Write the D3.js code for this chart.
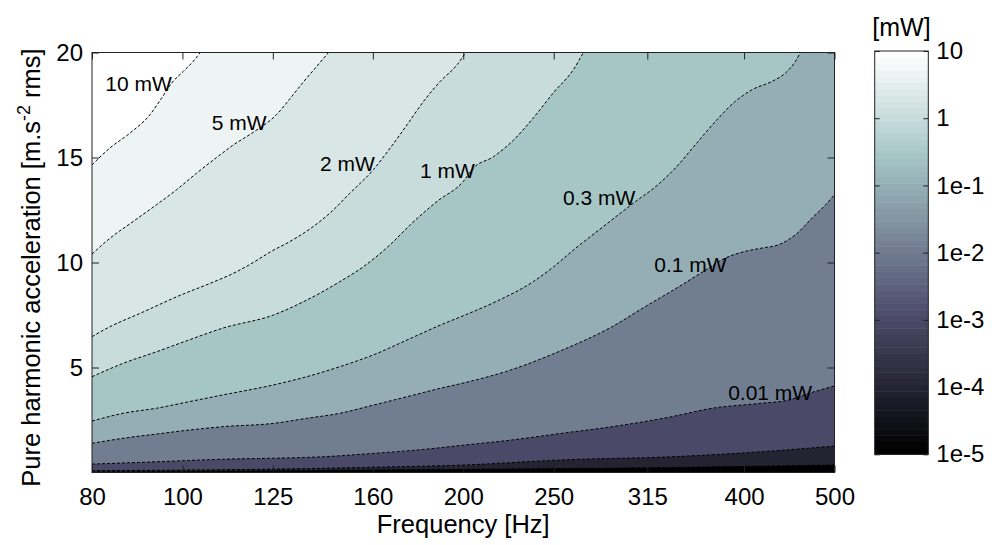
<!DOCTYPE html>
<html>
<head>
<meta charset="utf-8">
<script src="https://cdn.jsdelivr.net/npm/d3@7"></script>
<style>
    body { margin: 0; background: #fff; }
    svg text { font-family: "Liberation Sans", Arial, sans-serif; fill: #000; }
    .tick line { stroke: #222; }
</style>
</head>
<body>
<div id="chart"></div>
<script>
// Axis ticks
const freqTicks = [80, 100, 125, 160, 200, 250, 315, 400, 500];
const accTicks = [5, 10, 15, 20];
const powerTicks = [10, 1, 0.1, 0.01, 0.001, 0.0001, 0.00001];
const powerTickLabels = ['10', '1', '1e-1', '1e-2', '1e-3', '1e-4', '1e-5'];

// Contour lines: [frequency Hz, acceleration m/s2 rms]
const line10mW = [[80, 14.65], [83.6, 15.45], [87.9, 16.17], [92.3, 17.04], [95.0, 17.83],
    [97.4, 18.55], [100.2, 19.1], [102.7, 19.58], [104.5, 20]];
const line5mW = [[80, 10.4], [83.6, 11.15], [88.6, 11.96], [93.8, 12.75], [98.6, 13.47],
    [103.6, 14.26], [108.8, 15.0], [113.4, 15.6], [119.1, 16.2], [126.2, 17.05],
    [130.4, 17.8], [134.8, 18.6], [139.3, 19.34], [143.4, 20]];
const line2mW = [[80, 6.47], [83.6, 6.94], [90.1, 7.58], [100.2, 8.5], [107.0, 9.0],
    [114.3, 9.56], [119.1, 10.0], [124.2, 10.5], [130.4, 11.0], [137.0, 11.6],
    [143.9, 12.35], [151.2, 13.3], [160.2, 14.42], [167.0, 15.45], [174.1, 16.56],
    [181.4, 17.68], [189.0, 18.63], [197.0, 19.42], [201.2, 20]];
const line1mW = [[80, 4.56], [86.4, 5.2], [93.8, 5.75], [101.6, 6.31], [110.4, 6.87],
    [125.2, 7.5], [135.9, 8.21], [147.5, 9.09], [156.3, 9.8], [167.0, 10.85],
    [175.5, 11.8], [187.5, 12.91], [200.1, 13.87], [205.0, 14.49], [215.5, 15.04],
    [226.4, 15.83], [237.9, 16.9], [250.0, 18.1], [262.6, 19.2], [269.0, 20]];
const line03mW = [[80, 2.45], [86.4, 2.82], [93.8, 3.06], [101.6, 3.37], [110.4, 3.69],
    [125.2, 4.17], [135.9, 4.56], [147.5, 5.04], [160.2, 5.6], [174.1, 6.31],
    [189.0, 7.02], [200.9, 7.5], [216.6, 8.13], [237.9, 9.1], [250.0, 9.8],
    [262.6, 10.6], [282.4, 11.7], [305.9, 12.9], [321.3, 13.6], [337.6, 14.5],
    [354.7, 15.61], [372.7, 16.72], [391.6, 17.68], [408.1, 18.23], [428.8, 18.63],
    [442.9, 19.02], [454.0, 19.58], [459.6, 20]];
const line01mW = [[80, 1.39], [86.4, 1.63], [93.8, 1.83], [101.6, 2.02], [110.4, 2.18],
    [125.2, 2.34], [135.9, 2.58], [147.5, 2.82], [160.2, 3.21], [174.1, 3.61],
    [189.0, 4.01], [200.9, 4.28], [221.9, 4.8], [255.4, 5.83], [288.7, 6.94],
    [313.4, 7.9], [340.6, 8.85], [363.7, 9.64], [381.8, 10.21], [401.1, 10.53],
    [418.2, 10.69], [435.7, 10.85], [454.0, 11.32], [473.2, 12.12], [489.1, 12.75],
    [500, 13.23]];
const line001mW = [[80, 0.40], [93.8, 0.51], [110.4, 0.63], [125.2, 0.68], [141.6, 0.75],
    [160.2, 0.91], [181.4, 1.1], [200.9, 1.31], [225.6, 1.55], [255.4, 1.87],
    [288.7, 2.18], [334.8, 2.66], [369.8, 3.06], [418.2, 3.3], [446.6, 3.45],
    [469.3, 3.77], [500, 4.12]];
const line0001mW = [[80, 0.09], [120.2, 0.15], [160.2, 0.25], [200.9, 0.36], [255.4, 0.6],
    [334.8, 0.75], [418.2, 0.99], [500, 1.26]];
const line1e4mW = [[80, 0.02], [200.9, 0.15], [334.8, 0.24], [500, 0.36]];
const line1e5mW = [[460, 0], [500, 0.08]];

const levels = [0.00001, 0.0001, 0.001, 0.01, 0.1, 0.3, 1, 2, 5, 10];
const levelLines = [line1e5mW, line1e4mW, line0001mW, line001mW, line01mW,
    line03mW, line1mW, line2mW, line5mW, line10mW];

// Inline contour labels: text, [frequency, acceleration] of the label's right end
const labelTexts = ['10 mW', '5 mW', '2 mW', '1 mW', '0.3 mW', '0.1 mW', '0.01 mW'];
const labelAt = [[97.4, 18.18], [123.1, 16.32], [160.8, 14.34], [205.8, 14.01],
    [305.8, 12.75], [383.1, 9.56], [473.2, 3.45]];

// MATLAB "bone" colormap, 64 entries
function bone(i) {
    const g = i / 63, k = i + 1;
    const hr = Math.min(k / 24, 1);
    const hg = Math.min(Math.max((k - 24) / 24, 0), 1);
    const hb = Math.min(Math.max((k - 48) / 16, 0), 1);
    return d3.rgb(255 * (7 * g + hb) / 8, 255 * (7 * g + hg) / 8, 255 * (7 * g + hr) / 8);
}
function colorIndex(v) {
    const t = (Math.log10(v) + 5) / 6;
    return Math.max(0, Math.min(63, Math.floor(t * 64 + 1e-9)));
}

const W = 992, H = 545;
const svg = d3.select('#chart').append('svg')
    .attr('width', W).attr('height', H);

const x = d3.scaleLog().domain([80, 500]).range([92, 834.5]);
const y = d3.scaleLinear().domain([0, 20]).range([472.5, 52.5]);

svg.append('clipPath').attr('id', 'plot-clip')
    .append('rect')
    .attr('x', x(80)).attr('y', y(20))
    .attr('width', x(500) - x(80)).attr('height', y(0) - y(20));

const plot = svg.append('g').attr('clip-path', 'url(#plot-clip)');

// lowest band
plot.append('rect')
    .attr('x', x(80)).attr('y', y(20))
    .attr('width', x(500) - x(80)).attr('height', y(0) - y(20))
    .attr('fill', bone(0));

const area = d3.area()
    .curve(d3.curveMonotoneX)
    .x(d => x(d[0]))
    .y0(y(20))
    .y1(d => y(d[1]));

const line = d3.line()
    .curve(d3.curveMonotoneX)
    .x(d => x(d[0]))
    .y(d => y(d[1]));

levels.forEach((lev, i) => {
    let pts = levelLines[i];
    if (pts[0][1] === 0 && pts[0][0] > 80) pts = [[80, 0]].concat(pts);
    plot.append('path')
        .datum(pts)
        .attr('d', area)
        .attr('fill', bone(colorIndex(lev)));
});

levelLines.forEach(pts => {
    plot.append('path')
        .datum(pts)
        .attr('d', line)
        .attr('fill', 'none')
        .attr('stroke', '#000')
        .attr('stroke-width', 1)
        .attr('stroke-dasharray', '3,2');
});

plot.selectAll('.clabel')
    .data(labelTexts)
    .enter()
    .append('text')
    .attr('class', 'clabel')
    .attr('x', (d, i) => x(labelAt[i][0]))
    .attr('y', (d, i) => y(labelAt[i][1]))
    .attr('text-anchor', 'end')
    .style('font-size', '21px')
    .text(d => d);

// axes, ticks inside
const xAxisB = d3.axisBottom(x).tickValues(freqTicks).tickFormat(d3.format('d'))
    .tickSize(-7).tickSizeOuter(0).tickPadding(15);
const xAxisT = d3.axisTop(x).tickValues(freqTicks).tickFormat('')
    .tickSize(-7).tickSizeOuter(0);
const yAxisL = d3.axisLeft(y).tickValues(accTicks).tickSize(-7).tickSizeOuter(0).tickPadding(9);
const yAxisR = d3.axisRight(y).tickValues(accTicks).tickFormat('').tickSize(-7).tickSizeOuter(0);

function styleAxis(g) {
    g.select('.domain').remove();
    g.selectAll('text').style('font-size', '24px').attr('fill', '#000');
}

svg.append('g').attr('transform', `translate(0,${y(0)})`).call(xAxisB).call(styleAxis);
svg.append('g').attr('transform', `translate(0,${y(20)})`).call(xAxisT).call(styleAxis);
svg.append('g').attr('transform', `translate(${x(80)},0)`).call(yAxisL).call(styleAxis);
svg.append('g').attr('transform', `translate(${x(500)},0)`).call(yAxisR).call(styleAxis);

svg.append('rect')
    .attr('x', x(80)).attr('y', y(20))
    .attr('width', x(500) - x(80)).attr('height', y(0) - y(20))
    .attr('fill', 'none').attr('stroke', '#222').attr('stroke-width', 1);

svg.append('text')
    .attr('x', (x(80) + x(500)) / 2)
    .attr('y', 533)
    .attr('text-anchor', 'middle')
    .style('font-size', '25.5px')
    .text('Frequency [Hz]');

const ylab = svg.append('text')
    .attr('transform', `translate(40,${(y(0) + y(20)) / 2 + 5}) rotate(-90)`)
    .attr('text-anchor', 'middle')
    .style('font-size', '25.5px');
ylab.append('tspan').text('Pure harmonic acceleration [m.s');
ylab.append('tspan').attr('dy', -10).style('font-size', '18px').text('-2');
ylab.append('tspan').attr('dy', 10).text(' rms]');

// colorbar
const cbX = 874.7, cbW = 53.6;
const c = d3.scaleLog().domain([1e-5, 10]).range([454.3, 51]);
const cb = svg.append('g');
cb.selectAll('rect.band')
    .data(d3.range(64))
    .enter()
    .append('rect')
    .attr('class', 'band')
    .attr('x', cbX)
    .attr('width', cbW)
    .attr('y', i => c(Math.pow(10, -5 + (i + 1) * 6 / 64)))
    .attr('height', i => c(Math.pow(10, -5 + i * 6 / 64)) - c(Math.pow(10, -5 + (i + 1) * 6 / 64)) + 0.5)
    .attr('fill', i => bone(i));

const cAxisR = d3.axisRight(c).tickValues(powerTicks)
    .tickFormat((d, i) => powerTickLabels[i]).tickSize(-5).tickSizeOuter(0).tickPadding(8);
const cAxisL = d3.axisLeft(c).tickValues(powerTicks).tickFormat('').tickSize(-5).tickSizeOuter(0);
svg.append('g').attr('transform', `translate(${cbX + cbW},0)`).call(cAxisR).call(styleAxis);
svg.append('g').attr('transform', `translate(${cbX},0)`).call(cAxisL).call(styleAxis);

svg.append('rect')
    .attr('x', cbX).attr('y', c(10))
    .attr('width', cbW).attr('height', c(1e-5) - c(10))
    .attr('fill', 'none').attr('stroke', '#222').attr('stroke-width', 1);

svg.append('text')
    .attr('x', cbX + cbW / 2)
    .attr('y', 36)
    .attr('text-anchor', 'middle')
    .style('font-size', '25px')
    .text('[mW]');
</script>
</body>
</html>
